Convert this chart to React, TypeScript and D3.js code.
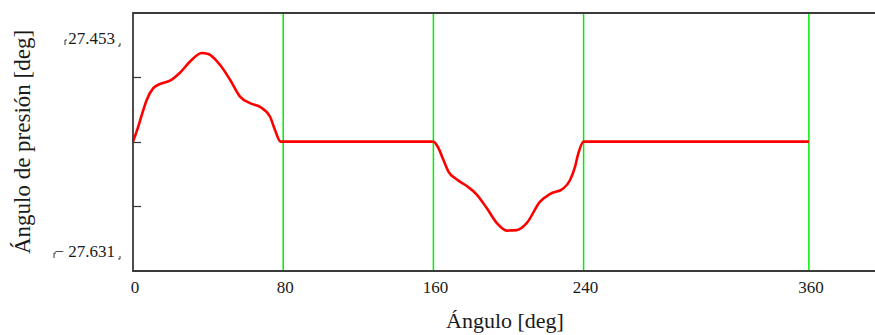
import { useEffect, useRef } from 'react'
import * as d3 from 'd3'

// pressure angle curve (deg, deg)
const ANGLES = [0, 2.8, 4.6, 7.3, 10.8, 14.4, 19.7, 25, 30.4, 36.6, 40.1, 46.3, 51.7, 57, 62.3, 67.7, 73, 75.6, 78.6, 80,
  160, 162.7, 165.3, 168, 172.5, 177.8, 183.1, 188.4, 193.8, 199.1, 204.4, 209.7, 216.8, 222.1, 229.2, 232.8, 235.5, 237.2, 240, 360]
const VALUES = [0, 3.2, 5.6, 8.9, 11.4, 12.3, 13.0, 14.7, 17.1, 18.9, 18.7, 16.4, 13.2, 9.6, 8.2, 7.4, 5.3, 2.5, 0, 0,
  0, -1.4, -3.9, -6.4, -8.1, -9.5, -11.3, -14.2, -17.4, -19.0, -18.9, -17.4, -12.8, -11.2, -10.0, -8.2, -5.3, -2.5, 0, 0]

const X_MARKERS = [80, 160, 240, 360]
const X_TICKS = [0, 80, 160, 240, 360]
const Y_TICKS = [13.73, 0, -13.82]
const Y_MAX = 27.453
const Y_MIN = -27.631

const W = 875
const H = 335
const PLOT = { left: 133, top: 13, bottom: 271, right: 884 }

export default function App() {
  const svgRef = useRef<SVGSVGElement>(null)

  useEffect(() => {
    const svgEl = svgRef.current
    if (!svgEl) return
    const svg = d3.select(svgEl)
    svg.selectAll('*').remove()

    const x = d3.scaleLinear().domain([0, 400]).range([PLOT.left, PLOT.right])
    const y = d3.scaleLinear().domain([Y_MIN, Y_MAX]).range([PLOT.bottom, PLOT.top])

    // green marker lines
    svg.selectAll('.marker')
      .data(X_MARKERS)
      .join('line')
      .attr('class', 'marker')
      .attr('x1', d => x(d)).attr('x2', d => x(d))
      .attr('y1', PLOT.top).attr('y2', PLOT.bottom)
      .attr('stroke', '#00ee00').attr('stroke-width', 1.5)

    // curve
    const pts = ANGLES.map((a, i) => [a, VALUES[i]] as [number, number])
    const line = d3.line<[number, number]>()
      .x(d => x(d[0]))
      .y(d => y(d[1]))
      .curve(d3.curveMonotoneX)
    svg.append('path')
      .attr('d', line(pts))
      .attr('fill', 'none')
      .attr('stroke', '#ff0000')
      .attr('stroke-width', 2.6)
      .attr('stroke-linejoin', 'round')

    // frame
    svg.append('path')
      .attr('d', `M${PLOT.right},${PLOT.top}H${PLOT.left}V${PLOT.bottom}H${PLOT.right}`)
      .attr('fill', 'none')
      .attr('stroke', '#3a3a3a')
      .attr('stroke-width', 1.8)

    // y ticks
    svg.selectAll('.ytick')
      .data(Y_TICKS)
      .join('line')
      .attr('class', 'ytick')
      .attr('x1', PLOT.left).attr('x2', PLOT.left + 8)
      .attr('y1', d => Math.round(y(d)) + 0.5).attr('y2', d => Math.round(y(d)) + 0.5)
      .attr('stroke', '#333').attr('stroke-width', 1.2)

    const serif = "'Liberation Serif', 'Times New Roman', serif"

    // x tick labels
    svg.selectAll('.xlab')
      .data(X_TICKS)
      .join('text')
      .attr('class', 'xlab')
      .attr('x', d => x(d) + 2)
      .attr('y', 293)
      .attr('text-anchor', 'middle')
      .attr('font-family', serif).attr('font-size', 17).attr('fill', '#1a1a1a')
      .text(d => String(d))

    // y limit labels with small corner marks
    const limits = [
      { v: Y_MAX, label: '27.453', base: 44, left: 65, right: 118 },
      { v: Y_MIN, label: '\u2212 27.631', base: 257, left: 54, right: 118 },
    ]
    limits.forEach(l => {
      svg.append('text')
        .attr('x', l.right - 3).attr('y', l.base)
        .attr('text-anchor', 'end')
        .attr('font-family', serif).attr('font-size', 17).attr('fill', '#1a1a1a')
        .text(l.label)
      svg.append('path')
        .attr('d', `M${l.left},${l.base - 4}v5 M${l.left},${l.base - 4}h2 M${l.right + 2},${l.base - 1}v3 M${l.right + 2},${l.base + 2}h-2`)
        .attr('fill', 'none').attr('stroke', '#333').attr('stroke-width', 1)
    })

    // axis titles
    svg.append('text')
      .attr('x', 505).attr('y', 328)
      .attr('text-anchor', 'middle')
      .attr('font-family', serif).attr('font-size', 22).attr('fill', '#1a1a1a')
      .text('Ángulo [deg]')

    svg.append('text')
      .attr('transform', 'translate(30,142) rotate(-90)')
      .attr('text-anchor', 'middle')
      .attr('font-family', serif).attr('font-size', 23).attr('fill', '#1a1a1a')
      .text('Ángulo de presión [deg]')
  }, [])

  return (
    <div style={{ position: 'absolute', left: 0, top: 0, width: W, height: H, background: '#fff' }}>
      <svg ref={svgRef} width={W} height={H} style={{ display: 'block' }} />
    </div>
  )
}
